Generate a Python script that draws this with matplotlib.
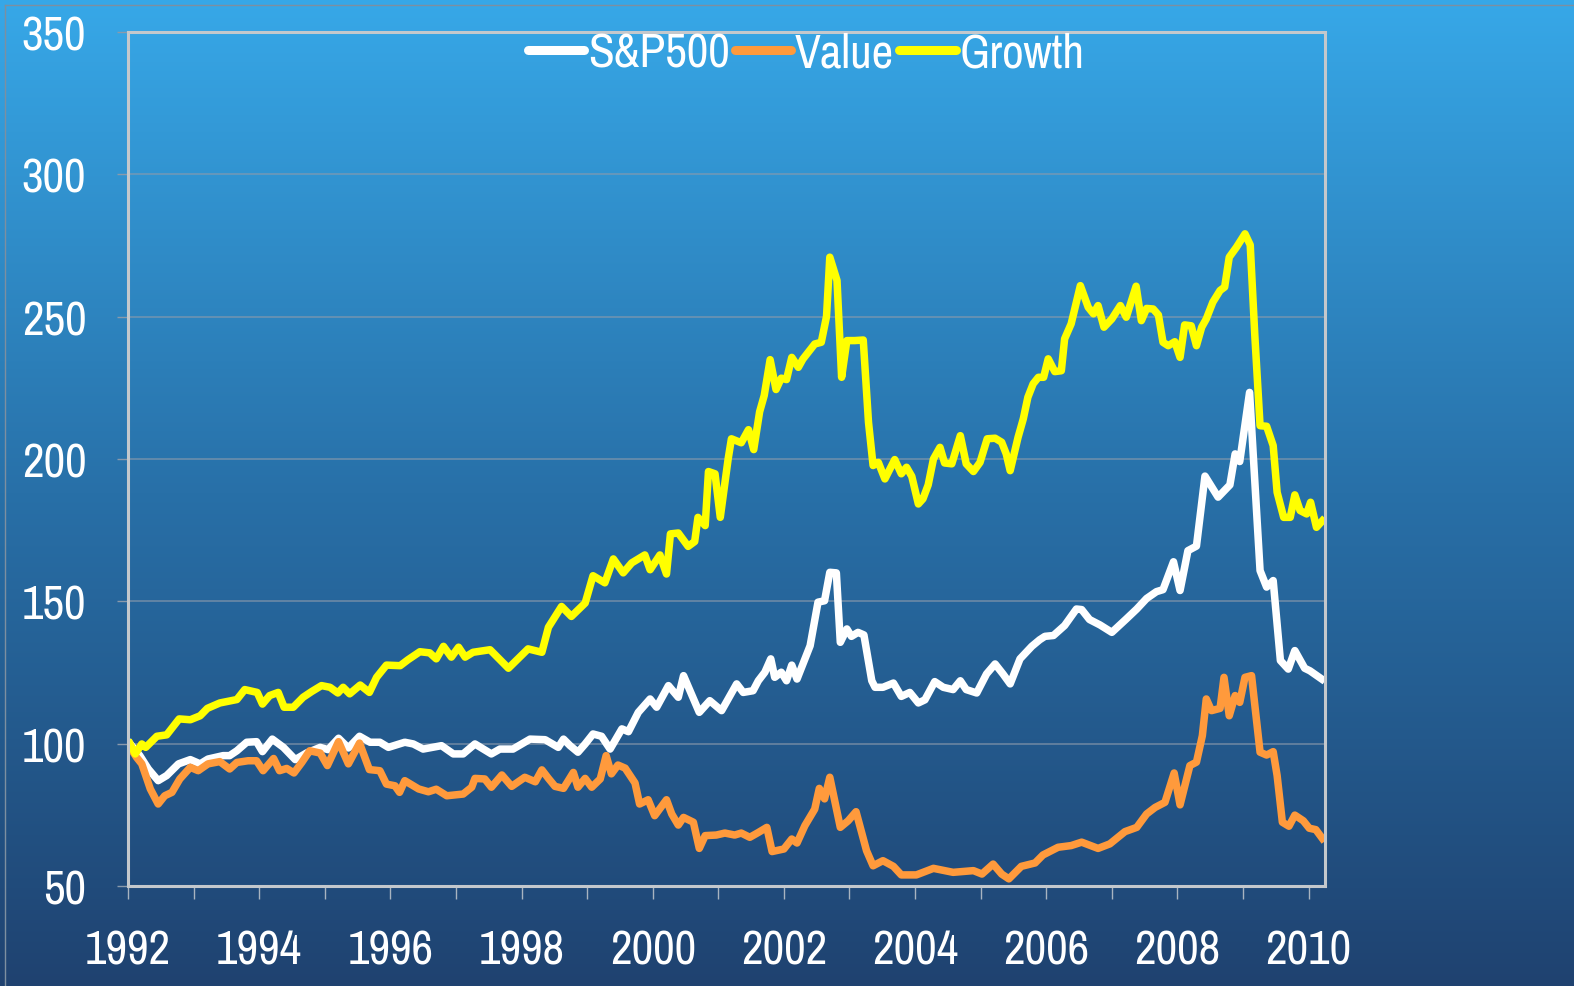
import matplotlib
matplotlib.use("Agg")
import matplotlib.pyplot as plt
import numpy as np
from matplotlib.lines import Line2D
from matplotlib import font_manager

# S&P500 (white)
sp_years = [1992.03, 1992.18, 1992.31, 1992.46, 1992.59, 1992.77, 1992.95, 1993.10, 1993.22, 1993.45,
            1993.55, 1993.66, 1993.81, 1993.96, 1994.05, 1994.20, 1994.37, 1994.55, 1994.72, 1994.93,
            1995.05, 1995.21, 1995.36, 1995.53, 1995.69, 1995.84, 1995.97, 1996.22, 1996.35, 1996.50,
            1996.78, 1996.96, 1997.11, 1997.29, 1997.54, 1997.67, 1997.87, 1998.13, 1998.36, 1998.56,
            1998.64, 1998.74, 1998.86, 1998.97, 1999.09, 1999.22, 1999.35, 1999.53, 1999.63, 1999.78,
            1999.96, 2000.06, 2000.24, 2000.39, 2000.47, 2000.71, 2000.87, 2001.05, 2001.28, 2001.38,
            2001.53, 2001.61, 2001.71, 2001.80, 2001.86, 2001.96, 2002.04, 2002.12, 2002.20, 2002.40,
            2002.52, 2002.62, 2002.70, 2002.80, 2002.86, 2002.96, 2003.03, 2003.13, 2003.22, 2003.34,
            2003.39, 2003.51, 2003.67, 2003.79, 2003.92, 2004.05, 2004.15, 2004.30, 2004.43, 2004.58,
            2004.69, 2004.78, 2004.94, 2005.09, 2005.22, 2005.34, 2005.45, 2005.60, 2005.78, 2005.90,
            2005.98, 2006.11, 2006.28, 2006.46, 2006.54, 2006.66, 2006.82, 2007.00, 2007.22, 2007.38,
            2007.53, 2007.68, 2007.78, 2007.94, 2008.04, 2008.16, 2008.29, 2008.42, 2008.62, 2008.80,
            2008.88, 2008.95, 2009.10, 2009.26, 2009.36, 2009.46, 2009.57, 2009.69, 2009.79, 2009.94,
            2010.02, 2010.20]
sp_vals = [100.0, 95.8, 91.1, 87.0, 88.8, 92.9, 94.4, 92.9, 94.6, 95.8,
           95.8, 97.5, 100.5, 100.7, 97.2, 101.6, 98.7, 94.4, 96.7, 98.7,
           97.9, 101.9, 98.5, 102.6, 100.5, 100.5, 98.7, 100.5, 99.9, 98.1,
           99.3, 96.4, 96.4, 99.9, 96.4, 98.1, 98.1, 101.6, 101.4, 98.7,
           101.6, 99.3, 97.0, 99.9, 103.4, 102.6, 98.1, 105.2, 104.2, 111.0,
           115.7, 112.8, 120.4, 116.3, 123.9, 111.0, 115.1, 111.6, 121.0, 118.0,
           118.6, 122.1, 125.1, 129.8, 123.3, 125.1, 122.1, 127.6, 122.7, 134.4,
           149.7, 150.2, 160.2, 160.0, 135.6, 140.3, 137.7, 139.1, 138.2, 122.1,
           119.8, 119.8, 121.3, 116.6, 118.0, 114.3, 115.4, 121.8, 119.8, 119.0,
           122.1, 119.0, 117.8, 124.5, 128.0, 124.5, 121.0, 129.8, 134.2, 136.5,
           137.7, 138.0, 141.5, 147.3, 147.1, 143.6, 141.7, 139.1, 143.8, 147.3,
           151.0, 153.4, 154.1, 163.9, 153.8, 167.8, 169.4, 194.0, 186.6, 190.9,
           201.8, 199.1, 223.4, 160.8, 155.0, 157.3, 129.2, 126.2, 132.7, 126.5,
           125.6, 122.7]

# Value (orange)
value_years = [1992.03, 1992.13, 1992.21, 1992.34, 1992.46, 1992.56, 1992.67, 1992.79, 1992.95, 1993.07,
               1993.22, 1993.40, 1993.55, 1993.66, 1993.83, 1993.96, 1994.06, 1994.22, 1994.31, 1994.42,
               1994.53, 1994.65, 1994.77, 1994.93, 1995.04, 1995.21, 1995.36, 1995.53, 1995.68, 1995.84,
               1995.94, 1996.07, 1996.14, 1996.22, 1996.43, 1996.58, 1996.70, 1996.86, 1997.11, 1997.24,
               1997.29, 1997.44, 1997.54, 1997.70, 1997.85, 1998.05, 1998.21, 1998.31, 1998.41, 1998.51,
               1998.64, 1998.79, 1998.86, 1998.97, 1999.07, 1999.20, 1999.29, 1999.37, 1999.47, 1999.58,
               1999.73, 1999.80, 1999.93, 2000.03, 2000.21, 2000.29, 2000.39, 2000.47, 2000.62, 2000.71,
               2000.80, 2000.97, 2001.10, 2001.25, 2001.35, 2001.48, 2001.61, 2001.74, 2001.82, 2002.00,
               2002.12, 2002.20, 2002.32, 2002.47, 2002.54, 2002.62, 2002.70, 2002.86, 2002.98, 2003.10,
               2003.26, 2003.36, 2003.51, 2003.67, 2003.79, 2004.02, 2004.28, 2004.58, 2004.89, 2005.02,
               2005.19, 2005.32, 2005.43, 2005.62, 2005.83, 2005.95, 2006.18, 2006.38, 2006.54, 2006.79,
               2006.97, 2007.20, 2007.38, 2007.53, 2007.66, 2007.81, 2007.95, 2008.04, 2008.19, 2008.29,
               2008.38, 2008.44, 2008.52, 2008.65, 2008.71, 2008.79, 2008.88, 2008.95, 2009.03, 2009.13,
               2009.26, 2009.36, 2009.46, 2009.52, 2009.60, 2009.70, 2009.79, 2009.92, 2010.01, 2010.11,
               2010.21]
value_vals = [98.7, 95.2, 92.9, 84.1, 78.8, 81.7, 82.9, 87.6, 91.7, 90.5,
              92.9, 93.7, 91.1, 93.4, 94.0, 94.0, 90.5, 94.8, 90.5, 91.3,
              89.7, 93.4, 97.5, 96.7, 92.3, 100.7, 92.9, 100.2, 90.9, 90.5,
              85.8, 85.2, 82.9, 87.0, 84.1, 83.1, 84.0, 81.7, 82.3, 84.7,
              87.8, 87.6, 84.7, 89.0, 85.0, 88.2, 86.6, 90.8, 87.8, 85.0,
              84.3, 89.9, 84.7, 87.8, 84.7, 87.6, 95.8, 89.4, 92.5, 91.4,
              86.2, 78.8, 80.3, 74.7, 80.3, 75.3, 71.4, 74.1, 72.4, 63.2,
              67.7, 67.9, 68.6, 67.9, 68.6, 67.1, 68.8, 70.6, 62.1, 63.0,
              66.5, 65.1, 71.2, 77.0, 84.3, 80.6, 88.2, 70.6, 72.9, 76.1,
              62.4, 57.1, 58.9, 56.9, 53.9, 53.9, 56.2, 54.8, 55.4, 54.2,
              57.7, 54.2, 52.5, 56.9, 58.1, 60.9, 63.6, 64.2, 65.4, 63.2,
              64.8, 69.1, 70.6, 75.3, 77.6, 79.4, 89.7, 78.5, 92.3, 93.5,
              102.8, 115.7, 111.6, 112.4, 123.3, 109.8, 116.9, 114.5, 123.3, 123.9,
              97.0, 96.0, 97.2, 88.8, 72.4, 71.0, 74.9, 72.9, 70.3, 69.8,
              66.7]

# Growth (yellow)
growth_years = [1992.03, 1992.11, 1992.21, 1992.27, 1992.44, 1992.59, 1992.78, 1992.95, 1993.10, 1993.21,
                1993.40, 1993.66, 1993.78, 1993.97, 1994.05, 1994.16, 1994.29, 1994.38, 1994.52, 1994.67,
                1994.80, 1994.95, 1995.08, 1995.20, 1995.28, 1995.38, 1995.54, 1995.68, 1995.79, 1995.94,
                1996.15, 1996.27, 1996.45, 1996.60, 1996.70, 1996.81, 1996.93, 1997.04, 1997.14, 1997.26,
                1997.52, 1997.80, 1998.10, 1998.31, 1998.41, 1998.61, 1998.76, 1998.97, 1999.09, 1999.27,
                1999.40, 1999.55, 1999.68, 1999.88, 1999.96, 2000.11, 2000.21, 2000.27, 2000.39, 2000.54,
                2000.64, 2000.69, 2000.80, 2000.85, 2000.95, 2001.03, 2001.15, 2001.20, 2001.35, 2001.46,
                2001.54, 2001.63, 2001.70, 2001.79, 2001.88, 2001.96, 2002.04, 2002.12, 2002.22, 2002.29,
                2002.47, 2002.57, 2002.65, 2002.70, 2002.81, 2002.88, 2002.96, 2003.08, 2003.21, 2003.29,
                2003.36, 2003.44, 2003.54, 2003.69, 2003.79, 2003.87, 2003.95, 2004.05, 2004.12, 2004.20,
                2004.28, 2004.38, 2004.45, 2004.56, 2004.69, 2004.78, 2004.89, 2004.99, 2005.10, 2005.22,
                2005.32, 2005.39, 2005.45, 2005.57, 2005.65, 2005.72, 2005.80, 2005.88, 2005.96, 2006.03,
                2006.13, 2006.23, 2006.28, 2006.38, 2006.52, 2006.64, 2006.72, 2006.79, 2006.88, 2007.00,
                2007.13, 2007.22, 2007.37, 2007.45, 2007.53, 2007.63, 2007.71, 2007.78, 2007.86, 2007.96,
                2008.04, 2008.11, 2008.21, 2008.29, 2008.37, 2008.44, 2008.54, 2008.65, 2008.72, 2008.79,
                2008.90, 2009.03, 2009.11, 2009.18, 2009.26, 2009.36, 2009.46, 2009.52, 2009.62, 2009.72,
                2009.79, 2009.87, 2009.97, 2010.03, 2010.12, 2010.21]
growth_vals = [100.0, 96.4, 99.9, 98.7, 102.6, 103.1, 108.7, 108.4, 109.8, 112.4,
               114.3, 115.5, 119.0, 118.0, 113.9, 116.9, 118.0, 112.8, 112.8, 116.3,
               118.3, 120.4, 119.8, 117.8, 119.8, 117.5, 120.6, 118.0, 123.3, 127.6,
               127.4, 129.5, 132.3, 131.9, 129.8, 134.2, 130.4, 133.9, 130.4, 132.1,
               133.0, 126.5, 133.3, 132.1, 140.9, 148.2, 144.7, 149.4, 159.0, 156.5,
               164.9, 160.0, 163.5, 166.3, 161.1, 166.3, 159.6, 173.7, 174.0, 169.3,
               171.0, 179.5, 176.6, 195.6, 194.8, 179.5, 200.0, 207.1, 205.7, 210.3,
               203.3, 216.6, 222.3, 234.9, 224.4, 228.4, 227.9, 235.7, 232.2, 235.1,
               240.4, 241.0, 250.1, 270.9, 262.7, 228.7, 241.6, 241.6, 241.8, 212.9,
               197.7, 198.8, 193.0, 199.8, 194.8, 197.1, 193.9, 184.2, 186.0, 190.9,
               200.0, 204.1, 198.6, 198.3, 208.2, 198.3, 195.6, 198.8, 207.1, 207.3,
               205.9, 201.8, 195.9, 207.6, 214.1, 221.7, 226.4, 228.7, 228.7, 235.2,
               230.7, 231.0, 242.2, 247.5, 260.9, 253.3, 251.0, 253.9, 246.3, 249.2,
               253.9, 249.8, 260.7, 248.6, 252.9, 252.7, 250.6, 241.0, 239.8, 241.2,
               235.7, 247.1, 246.8, 239.8, 246.3, 249.2, 255.1, 259.2, 260.4, 270.9,
               274.4, 279.1, 275.2, 243.4, 211.7, 211.5, 204.7, 188.3, 179.5, 179.5,
               187.4, 181.9, 180.7, 184.8, 176.0, 178.3]

year_ticks = list(range(1992, 2011))
year_labels = [str(y) if y % 2 == 0 else "" for y in year_ticks]
value_ticks = [50, 100, 150, 200, 250, 300, 350]

# prefer a narrow face if one is installed, else Roboto
narrow = [f.name for f in font_manager.fontManager.ttflist
          if "Narrow" in f.name or "Condensed" in f.name]
families = ([narrow[0]] if narrow else []) + ["Roboto", "DejaVu Sans"]
plt.rcParams["font.family"] = families
fs = 34 if narrow else 30

fig = plt.figure(figsize=(15.74, 9.87), dpi=100)

# slide background: vertical blue gradient
bg = fig.add_axes([0, 0, 1, 1], zorder=-10)
top = np.array([55, 168, 232]) / 255
mid = np.array([40, 112, 168]) / 255
bot = np.array([31, 66, 112]) / 255
t = np.linspace(0, 1, 400)[:, None]
grad = np.where(t < 0.5, top + (mid - top) * (t / 0.5), mid + (bot - mid) * ((t - 0.5) / 0.5))
bg.imshow(grad[:, None, :], aspect="auto", extent=[0, 1, 0, 1])
bg.set_axis_off()
fig.add_artist(Line2D([5 / 1574, 5 / 1574], [0, 1 - 6 / 987], color="#7d8fa0", lw=1))
fig.add_artist(Line2D([5 / 1574, 1], [1 - 6 / 987, 1 - 6 / 987], color="#7d8fa0", lw=1))

ax = fig.add_axes([128 / 1574, 1 - 887 / 987, (1325 - 128) / 1574, (887 - 33) / 987])
ax.set_facecolor("none")

lw = 5.4
ax.plot(sp_years, sp_vals, color="white", lw=lw, label="S&P500", solid_joinstyle="round")
ax.plot(value_years, value_vals, color="#FF9A3C", lw=lw, label="Value", solid_joinstyle="round")
ax.plot(growth_years, growth_vals, color="#FFFF00", lw=lw, label="Growth", solid_joinstyle="round")

ax.set_xlim(1992, 2010.25)
ax.set_ylim(50, 350)
ax.set_yticks(value_ticks)
ax.set_xticks(year_ticks)
ax.set_xticklabels(year_labels)
ax.yaxis.grid(True, color="#8a9aab", lw=1.1, alpha=0.75)
ax.set_axisbelow(True)

for s in ax.spines.values():
    s.set_color("#c4c8cc")
    s.set_linewidth(2.2)

ax.tick_params(axis="y", length=8, width=1, color="#8a9aab", pad=22, labelsize=fs, labelcolor="white")
ax.tick_params(axis="x", length=9.5, width=1, color="#a8b4c0", pad=21, labelsize=fs, labelcolor="white")

leg = fig.legend(loc="center", bbox_to_anchor=(806 / 1574, 1 - 54 / 987), ncol=3, frameon=False,
                 fontsize=fs, handlelength=1.2, handletextpad=0.08, columnspacing=0.1,
                 labelcolor="white")
for h in leg.legend_handles:
    h.set_linewidth(6.5)
    h.set_solid_capstyle("round")

fig.savefig("out.png", dpi=100)
